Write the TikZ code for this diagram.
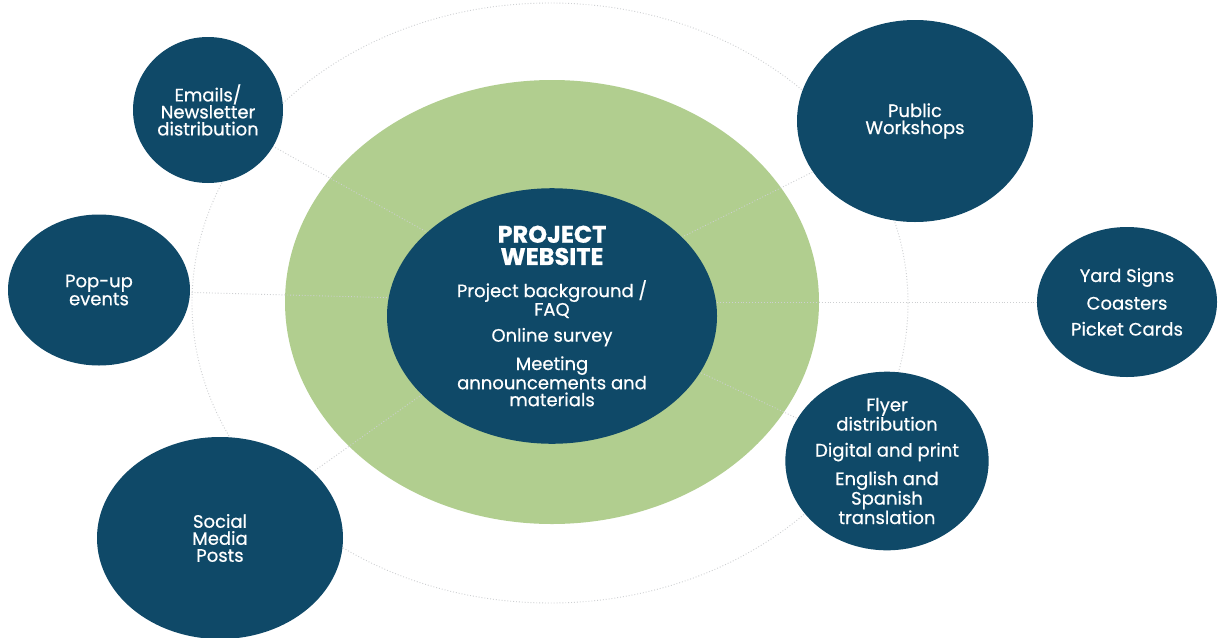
\documentclass[tikz,border=0pt]{standalone}
\usepackage{fontspec}
\setmainfont{Poppins}
\newfontfamily\semifont{Poppins}[FakeBold=0.6]
\usetikzlibrary{shapes.geometric,backgrounds}
\definecolor{navy}{RGB}{15,73,104}
\definecolor{leaf}{RGB}{177,206,143}
\definecolor{dotgray}{RGB}{205,207,209}
\newcommand{\titlefont}{\fontsize{24}{22}\selectfont\bfseries}
\newcommand{\itemfont}{\fontsize{18}{17}\selectfont\semifont}
\begin{document}
\begin{tikzpicture}[x=1pt,y=-1pt,
  sat/.style={ellipse, fill=navy, draw=none, inner sep=0pt, text=white, align=center,
    font=\itemfont},
  spoke/.style={draw=dotgray, dotted, line width=0.9pt}]
\useasboundingbox (0,0) rectangle (1225,637);
% satellites
\node[sat, minimum width=330pt, minimum height=244pt] (web) at (552,316)
  {\titlefont PROJECT\\[4pt] \titlefont WEBSITE\\[14pt]
   \itemfont Project background /\\ FAQ\\[9pt] Online survey\\[9pt] Meeting\\ announcements and\\ materials};
\node[sat, minimum width=150pt, minimum height=146pt] (emails) at (208,110)
  {Emails/\\ Newsletter\\ distribution};
\node[sat, minimum width=182pt, minimum height=151pt] (popup) at (99,290)
  {Pop-up\\ events};
\node[sat, minimum width=246pt, minimum height=202pt] (social) at (220,538)
  {Social\\ Media\\ Posts};
\node[sat, minimum width=236pt, minimum height=202pt] (workshops) at (915,121)
  {Public\\ Workshops};
\node[sat, minimum width=180pt, minimum height=150pt] (yard) at (1127,302)
  {Yard Signs\\[9pt] Coasters\\[9pt] Picket Cards};
\node[sat, minimum width=198pt, minimum height=178pt] (flyer) at (887,461)
  {Flyer\\ distribution\\[9pt] Digital and print\\[9pt] English and\\ Spanish\\ translation};
\begin{scope}[on background layer]
  \fill[white] (0,0) rectangle (1225,637);
  \node[ellipse, draw=dotgray, dotted, line width=0.9pt, inner sep=0pt,
        minimum width=716pt, minimum height=600pt] (ring) at (550,303) {};
  \node[ellipse, fill=leaf, inner sep=0pt, minimum width=534pt, minimum height=444pt] (green) at (552,302) {};
  \foreach \s in {emails,popup,social,workshops,yard,flyer}
    \draw[spoke] (green.center) -- (\s.center);
\end{scope}
\end{tikzpicture}
\end{document}
